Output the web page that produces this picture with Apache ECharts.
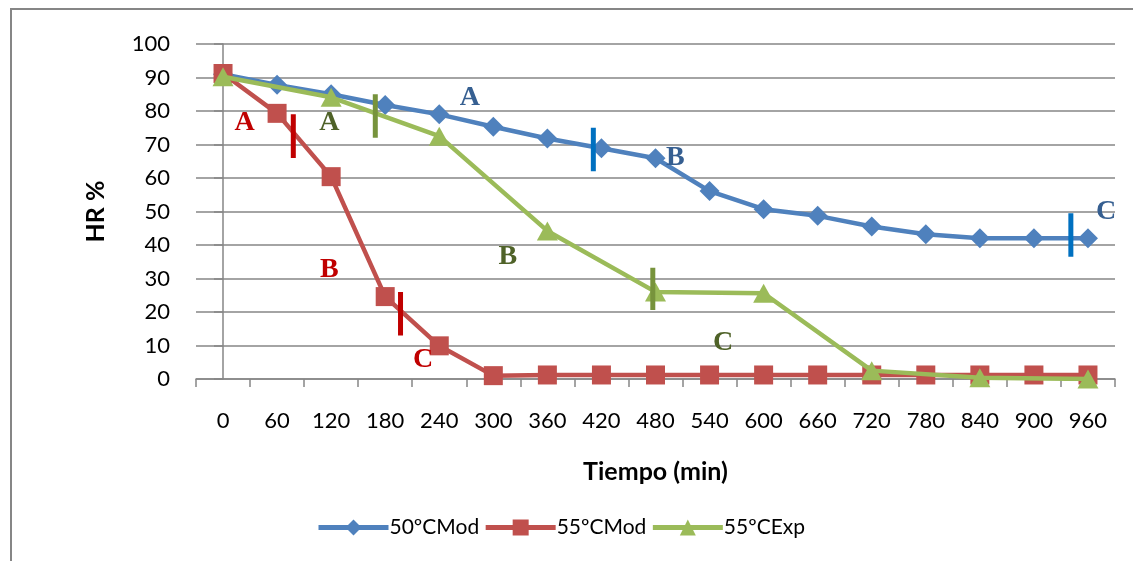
<!DOCTYPE html>
<html>
<head>
<meta charset="utf-8">
<script src="https://cdn.jsdelivr.net/npm/echarts@6/dist/echarts.min.js"></script>
<style>
html,body{margin:0;padding:0;background:#fff;}
#chart{width:1133px;height:561px;}
</style>
</head>
<body>
<div id="chart"></div>
<script>
// ---- data ----
const categories = ['0','60','120','180','240','300','360','420','480','540','600','660','720','780','840','900','960'];
const mod50 = [91, 87.8, 85, 81.8, 79, 75.3, 71.8, 68.9, 65.9, 56.1, 50.7, 48.7, 45.5, 43.2, 42, 42, 42];
const mod55 = [91.2, 79.3, 60.4, 24.6, 9.9, 1.0, 1.2, 1.2, 1.2, 1.2, 1.2, 1.2, 1.2, 1.2, 1.2, 1.2, 1.2];
const exp55 = [90.2, null, 84.1, null, 72.5, null, 44.2, null, 26, null, 25.6, null, 2.5, null, 0.4, null, 0];
const seriesNames = ['50ºCMod', '55ºCMod', '55ºCExp'];
const yTicks = {min: 0, max: 100, interval: 10};

// phase annotations (x in minutes, y in HR %)
const letterText = ['A', 'A', 'A', 'B', 'C', 'B', 'B', 'C', 'C'];
const letterX    = [24, 118, 274, 502, 980, 118, 316, 222, 555];
const letterY    = [76.4, 76.4, 83.9, 66, 50, 32.5, 36.4, 5.7, 10.7];
const letterCol  = ['#C00000', '#4F6228', '#365F91', '#365F91', '#365F91', '#C00000', '#4F6228', '#C00000', '#4F6228'];
const barX   = [78, 169, 411, 197, 477, 941];
const barY0  = [66, 72, 62, 13, 20.6, 36.5];
const barY1  = [79, 85, 75, 26, 33.2, 49.5];
const barCol = ['#C00000', '#77933C', '#0070C0', '#C00000', '#77933C', '#0070C0'];

const colors = ['#4F81BD', '#C0504D', '#9BBB59'];
const symbols = ['diamond', 'rect', 'triangle'];
const symSizes = [[20, 20], 19, [21, 19]];
const values = [mod50, mod55, exp55];

const font = 'Lato, "Open Sans", sans-serif';

const series = [];
values.forEach((v, i) => {
  series.push({
    name: seriesNames[i], type: 'line', data: v, connectNulls: true,
    xAxisIndex: 0, yAxisIndex: 0,
    symbol: symbols[i], symbolSize: symSizes[i], showAllSymbol: true,
    lineStyle: {color: colors[i], width: 4.5},
    itemStyle: {color: colors[i]},
    z: 2 + i
  });
});
barX.forEach((x, i) => {
  series.push({
    type: 'line', xAxisIndex: 1, yAxisIndex: 0,
    data: [[x, barY0[i]], [x, barY1[i]]],
    symbol: 'none', lineStyle: {color: barCol[i], width: 5}, z: 10
  });
});
series.push({
  type: 'scatter', xAxisIndex: 1, yAxisIndex: 0, z: 11,
  symbol: 'circle', symbolSize: 2, itemStyle: {color: 'rgba(255,255,255,0)'},
  data: letterX.map((x, i) => ({
    value: [x, letterY[i]],
    label: {show: true, position: 'inside', formatter: letterText[i], color: letterCol[i],
      textBorderWidth: 0, textBorderColor: 'transparent', opacity: 1,
      fontFamily: '"Liberation Serif", "DejaVu Serif", serif', fontWeight: 'bold', fontSize: 28}
  }))
});

const chart = echarts.init(document.getElementById('chart'), null, {renderer: 'canvas'});
chart.setOption({
  animation: false,
  backgroundColor: '#fff',
  graphic: [{type: 'rect', shape: {x: 11, y: 9, width: 1200, height: 600},
    style: {fill: 'none', stroke: '#868686', lineWidth: 2}, silent: true, z: -1}],
  grid: {left: 196, right: 18, top: 44, bottom: 182},
  legend: {
    data: seriesNames, left: 311, top: 512, itemWidth: 70, itemHeight: 20, itemGap: 4,
    lineStyle: {width: 5},
    textStyle: {fontFamily: font, fontSize: 21, color: '#000', padding: [0, 0, 0, -4]}
  },
  xAxis: [{
    type: 'category', data: categories, boundaryGap: true,
    name: 'Tiempo (min)', nameLocation: 'middle', nameGap: 80,
    nameTextStyle: {fontFamily: font, fontSize: 25, fontWeight: 'bold', color: '#000'},
    axisLine: {lineStyle: {color: '#868686', width: 1.5}},
    axisTick: {show: true, alignWithLabel: false, length: 8, lineStyle: {color: '#868686', width: 1.5}},
    axisLabel: {fontFamily: font, fontSize: 22, color: '#000', margin: 31, interval: 0},
    splitLine: {show: false}
  }, {
    type: 'value', min: -30, max: 990, show: false
  }],
  yAxis: [{
    type: 'value', min: yTicks.min, max: yTicks.max, interval: yTicks.interval,
    name: 'HR %', nameLocation: 'middle', nameGap: 88, nameRotate: 90,
    nameTextStyle: {fontFamily: font, fontSize: 25, fontWeight: 'bold', color: '#000'},
    axisLine: {show: true, lineStyle: {color: '#868686', width: 1.5}},
    axisTick: {show: true, length: 9, lineStyle: {color: '#868686', width: 1.5}},
    axisLabel: {fontFamily: font, fontSize: 22, color: '#000', margin: 26},
    splitLine: {show: true, lineStyle: {color: '#868686', width: 1.5}}
  }],
  series: series
});
</script>
</body>
</html>
